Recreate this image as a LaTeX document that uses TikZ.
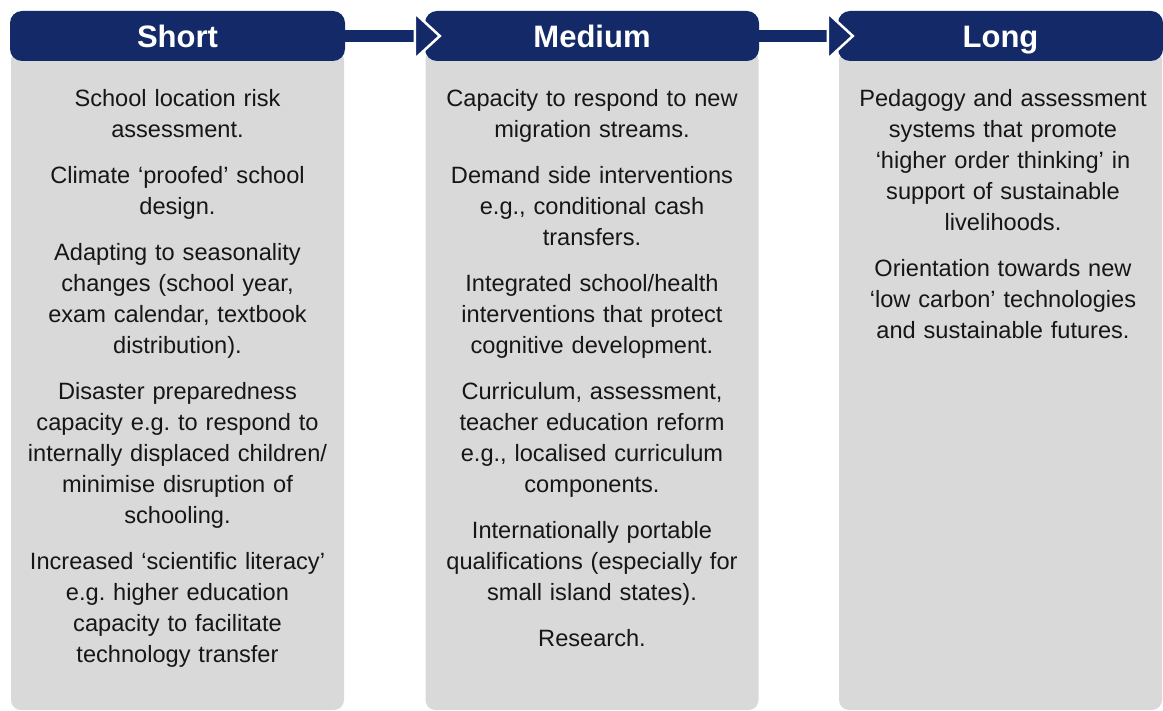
\documentclass[tikz,border=0pt]{standalone}
\usepackage{fontspec}
\setmainfont{Liberation Sans}
\frenchspacing
\definecolor{navy}{RGB}{19,41,104}
\definecolor{panelgray}{RGB}{217,217,217}
\definecolor{bodyink}{RGB}{22,22,22}
\begin{document}
\begin{tikzpicture}[x=1pt,y=-1pt,
  header/.style={rectangle, rounded corners=12pt, fill=navy, text=white,
    inner sep=0pt, minimum height=50pt, text height=24pt, text depth=0pt,
    font=\fontsize{31}{34}\bfseries\selectfont},
  panel/.style={rectangle, rounded corners=10pt, fill=panelgray, inner sep=0pt},
  items/.style={anchor=north, inner sep=0pt, text width=320pt, align=center,
    text=bodyink, font=\fontsize{23.6}{31}\selectfont},
  shaft/.style={draw=navy, line width=12pt},
  arrowhead/.style={fill=navy, draw=white, line width=2.5pt, line join=miter}
]
\useasboundingbox (0,0) rectangle (1163,711);

% grey panels behind each stage
\node[panel, minimum width=333pt, minimum height=660pt] (shortbody)  at (177.5,380) {};
\node[panel, minimum width=333pt, minimum height=660pt] (mediumbody) at (592,380) {};
\node[panel, minimum width=323pt, minimum height=660pt] (longbody)   at (1000.5,380) {};

% stage headers
\node[header, minimum width=335pt] (short)  at (177.5,36) {Short};
\node[header, minimum width=334pt] (medium) at (592,36)   {Medium};
\node[header, minimum width=325pt] (long)   at (1000.5,36) {Long};

% arrows linking the stages: a thick shaft, then a white-edged head
% whose point reaches into the next header
\draw[shaft] (short.east) -- ([xshift=-9pt]medium.west);
\draw[arrowhead] ([xshift=-10pt]medium.west) ++(0,-23) -- ++(25,23) -- ++(-25,23) -- cycle;
\draw[shaft] (medium.east) -- ([xshift=-9pt]long.west);
\draw[arrowhead] ([xshift=-10pt]long.west) ++(0,-23) -- ++(25,23) -- ++(-25,23) -- cycle;

% stage contents
\node[items] (shorttext) at (177.5,89) {%
School location risk\\ assessment.\\[15pt]
Climate ‘proofed’ school\\ design.\\[15pt]
Adapting to seasonality\\ changes (school year,\\ exam calendar, textbook\\ distribution).\\[15pt]
Disaster preparedness\\ capacity e.g. to respond to\\ internally displaced children/\\ minimise disruption of\\ schooling.\\[15pt]
Increased ‘scientific literacy’\\ e.g. higher education\\ capacity to facilitate\\ technology transfer};

\node[items] (mediumtext) at (592,89) {%
Capacity to respond to new\\ migration streams.\\[15pt]
Demand side interventions\\ e.g., conditional cash\\ transfers.\\[15pt]
Integrated school/health\\ interventions that protect\\ cognitive development.\\[15pt]
Curriculum, assessment,\\ teacher education reform\\ e.g., localised curriculum\\ components.\\[15pt]
Internationally portable\\ qualifications (especially for\\ small island states).\\[15pt]
Research.};

\node[items] (longtext) at (1003,89) {%
Pedagogy and assessment\\ systems that promote\\ ‘higher order thinking’ in\\ support of sustainable\\ livelihoods.\\[15pt]
Orientation towards new\\ ‘low carbon’ technologies\\ and sustainable futures.};
\end{tikzpicture}
\end{document}
